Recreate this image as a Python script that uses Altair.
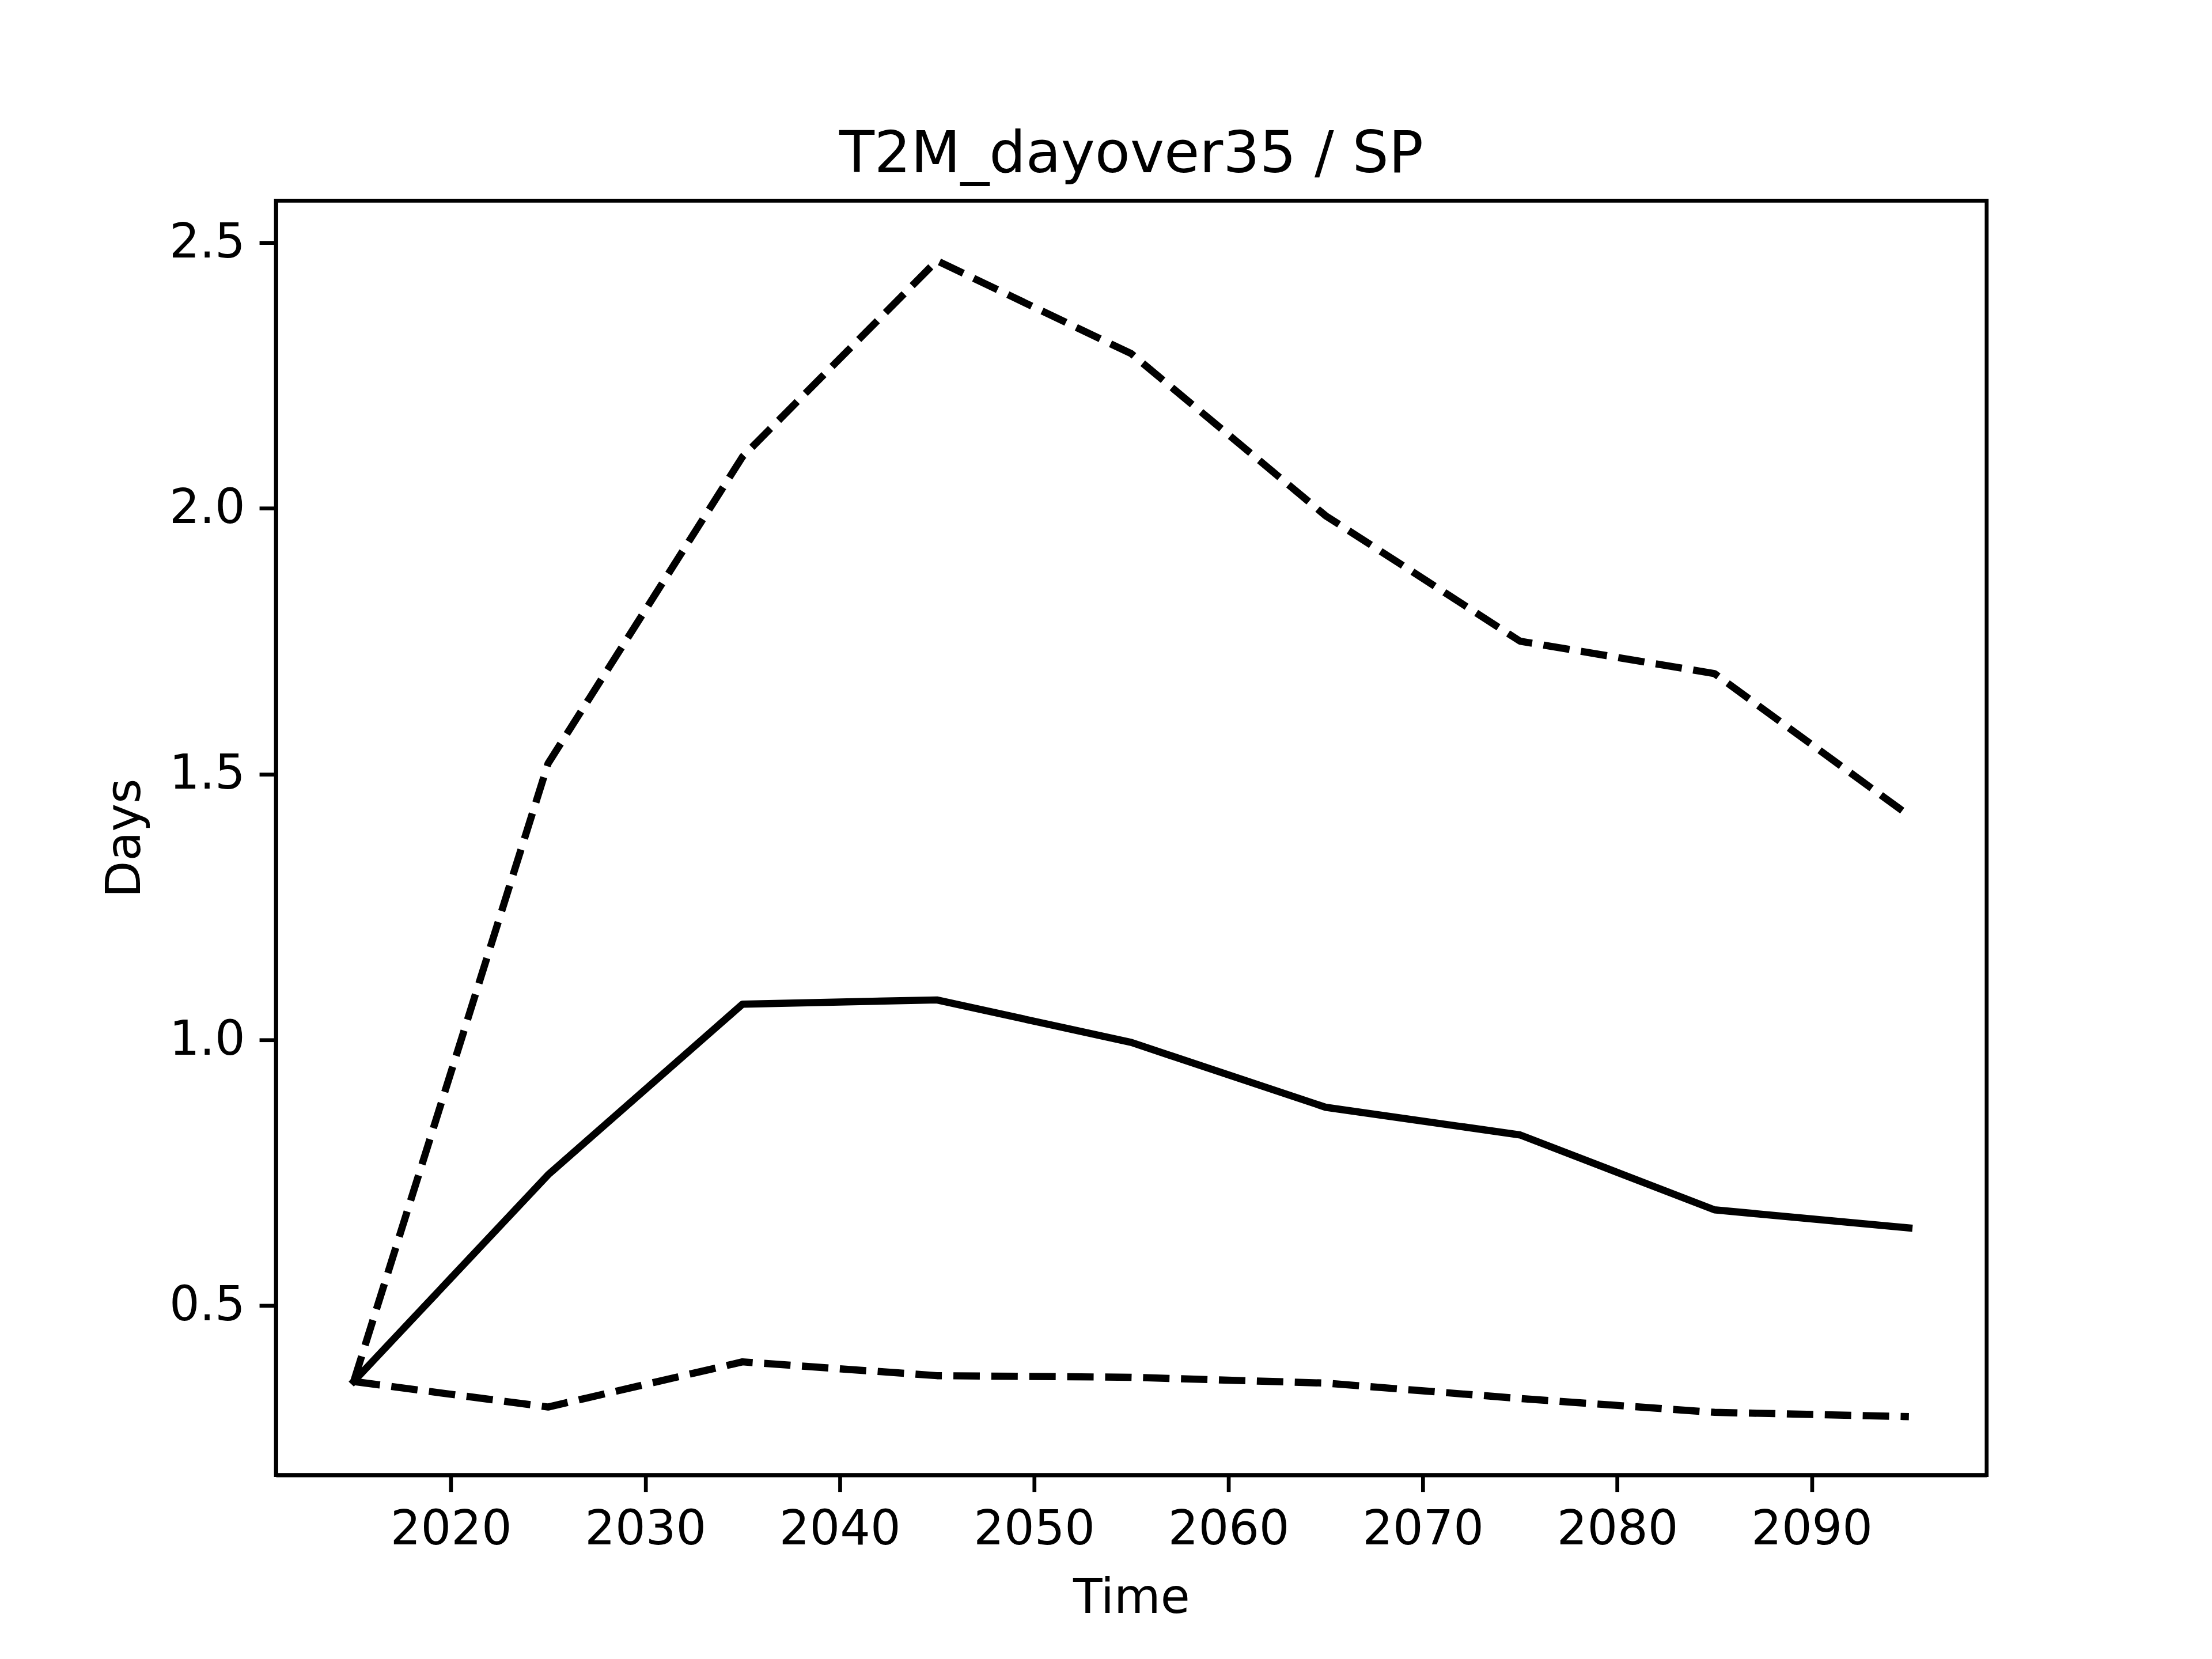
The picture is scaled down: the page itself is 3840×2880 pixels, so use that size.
import altair as alt
import pandas as pd

years = [2015, 2025, 2035, 2045, 2055, 2065, 2075, 2085, 2095]
upper = [0.357, 1.520, 2.097, 2.466, 2.291, 1.986, 1.750, 1.689, 1.422]
mean = [0.357, 0.746, 1.067, 1.075, 0.995, 0.873, 0.821, 0.680, 0.646]
lower = [0.357, 0.309, 0.394, 0.368, 0.365, 0.354, 0.325, 0.299, 0.291]

x_ticks = [2020, 2030, 2040, 2050, 2060, 2070, 2080, 2090]
y_ticks = [0.5, 1.0, 1.5, 2.0, 2.5]

rows = []
for name, vals in [("upper", upper), ("mean", mean), ("lower", lower)]:
    for yr, v in zip(years, vals):
        rows.append({"Time": yr, "Days": v, "series": name})
df = pd.DataFrame(rows)

FONT = "DejaVu Sans"
LW = 6.7

x_enc = alt.X(
    "Time:Q",
    scale=alt.Scale(domain=[2011, 2099], nice=False, zero=False),
    axis=alt.Axis(values=x_ticks, format="d", title="Time", titlePadding=36),
)
y_enc = alt.Y(
    "Days:Q",
    scale=alt.Scale(domain=[0.181, 2.579], nice=False, zero=False),
    axis=alt.Axis(values=y_ticks, format=".1f", title="Days", titlePadding=34),
)

base = alt.Chart(df)

dashed = (
    base.transform_filter(alt.datum.series != "mean")
    .mark_line(strokeWidth=12.5, color="black", strokeJoin="round",
               strokeCap="butt", strokeDash=[46, 20])
    .encode(x=x_enc, y=y_enc, detail="series:N")
)

solid = (
    base.transform_filter(alt.datum.series == "mean")
    .mark_line(strokeWidth=12.5, color="black", strokeJoin="round",
               strokeCap="square")
    .encode(x=x_enc, y=y_enc)
)

chart = (
    alt.layer(dashed, solid)
    .properties(
        width=2976,
        height=2217,
        background="white",
        title=alt.TitleParams(
            "T2M_dayover35 / SP",
            font=FONT,
            fontSize=100,
            fontWeight="normal",
            color="black",
            anchor="middle",
            offset=28,
        ),
        autosize=alt.AutoSizeParams(type="none"),
        padding={"left": 472, "top": 338, "right": 384, "bottom": 317},
    )
    .configure_view(stroke="black", strokeWidth=LW)
    .configure_axis(
        labelFont=FONT,
        titleFont=FONT,
        labelFontSize=83,
        titleFontSize=83,
        titleFontWeight="normal",
        labelColor="black",
        titleColor="black",
        tickColor="black",
        tickWidth=LW,
        tickSize=29,
        labelPadding=25,
        labelLimit=1000,
        domainColor="black",
        domainWidth=LW,
        grid=False,
        labelFlush=False,
        labelOverlap=False,
    )
)

chart.save("out.html", embed_options={"renderer": "svg", "actions": False})
